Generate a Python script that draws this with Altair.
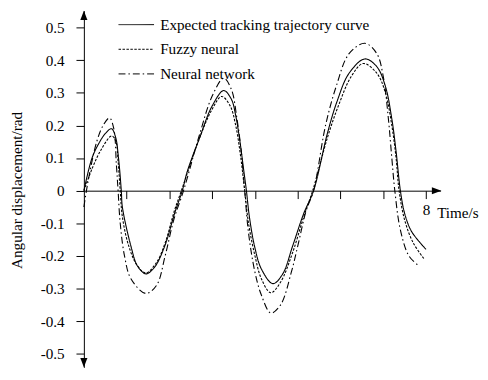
import altair as alt
import pandas as pd

# ---------------- data ----------------
series_names = ["Expected tracking trajectory curve", "Fuzzy neural", "Neural network"]

t_exp = [0, 0.19, 0.35, 0.5, 0.645, 0.74, 0.81, 0.875, 0.9, 1.1, 1.25, 1.45, 1.65, 1.89, 2.12, 2.3,
         2.42, 2.7, 3.0, 3.27, 3.45, 3.55, 3.65, 3.73, 3.8, 3.87, 3.99, 4.15, 4.42, 4.65, 4.88, 5.14, 5.37,
         5.69, 5.92, 6.2, 6.57, 6.85, 7.05, 7.2, 7.3, 7.4, 7.5, 7.64, 7.8, 8.0]
v_exp = [0, 0.10, 0.145, 0.175, 0.19, 0.165, 0.10, 0.0, -0.05, -0.17, -0.23, -0.255, -0.235, -0.17, -0.07, 0.0,
         0.06, 0.16, 0.26, 0.307, 0.28, 0.23, 0.15, 0.07, 0.0, -0.08, -0.17, -0.24, -0.285, -0.255, -0.17, -0.07, 0.0,
         0.174, 0.274, 0.36, 0.404, 0.38, 0.32, 0.22, 0.12, 0.0, -0.07, -0.12, -0.15, -0.18]

t_fuz = [0, 0.2, 0.4, 0.65, 0.75, 0.8, 0.85, 0.9, 1.05, 1.25, 1.45, 1.7, 1.9, 2.12, 2.28,
         2.7, 3.0, 3.22, 3.42, 3.55, 3.66, 3.76, 3.85, 4.0, 4.15, 4.37, 4.6, 4.88, 5.14, 5.35,
         5.7, 5.95, 6.25, 6.53, 6.85, 7.05, 7.2, 7.3, 7.37, 7.5, 7.7, 7.96]
v_fuz = [0, 0.07, 0.125, 0.168, 0.15, 0.09, 0.0, -0.08, -0.17, -0.23, -0.252, -0.22, -0.16, -0.06, 0.0,
         0.16, 0.25, 0.289, 0.26, 0.20, 0.11, 0.0, -0.10, -0.20, -0.27, -0.313, -0.28, -0.19, -0.08, 0.0,
         0.165, 0.26, 0.35, 0.39, 0.36, 0.30, 0.20, 0.10, 0.0, -0.09, -0.16, -0.21]

t_nn = [0, 0.1, 0.3, 0.45, 0.6, 0.7, 0.76, 0.8, 0.85, 0.95, 1.1, 1.45, 1.7, 1.9, 2.1, 2.33,
        2.7, 3.0, 3.27, 3.45, 3.58, 3.68, 3.76, 3.85, 4.0, 4.15, 4.37, 4.6, 4.85, 5.0, 5.2, 5.37,
        5.65, 5.9, 6.2, 6.57, 6.85, 7.0, 7.12, 7.2, 7.27, 7.4, 7.6, 7.83]
v_nn = [-0.05, 0.03, 0.15, 0.20, 0.223, 0.19, 0.08, 0.0, -0.10, -0.20, -0.27, -0.315, -0.29, -0.20, -0.09, 0.0,
        0.17, 0.29, 0.345, 0.31, 0.22, 0.12, 0.0, -0.13, -0.25, -0.32, -0.375, -0.35, -0.25, -0.17, -0.06, 0.0,
        0.20, 0.32, 0.42, 0.452, 0.42, 0.35, 0.22, 0.10, 0.0, -0.12, -0.20, -0.23]

y_ticks = [-0.5, -0.4, -0.3, -0.2, -0.1, 0.0, 0.1, 0.2, 0.3, 0.4, 0.5]
x_ticks = [1, 2, 3, 4, 5, 6, 7, 8]

rows = []
for name, ts, vs in zip(series_names, [t_exp, t_fuz, t_nn], [v_exp, v_fuz, v_nn]):
    for t, v in zip(ts, vs):
        rows.append({"t": t, "v": v, "series": name})
df = pd.DataFrame(rows)

# ---------------- layout ----------------
FONT = "Liberation Serif"
FS = 15.4
W, H = 362, 362
X_DOM = [0, 8.34]
Y_TOP = 0.552
Y_DOM = [Y_TOP - H / 331.0, Y_TOP]
y0_px = Y_TOP * 331.0  # pixel position of v = 0 inside the plot

xscale = alt.Scale(domain=X_DOM, nice=False, zero=False)
yscale = alt.Scale(domain=Y_DOM, nice=False, zero=False)

x_axis = alt.Axis(values=x_ticks, tickSize=8, offset=-(H - y0_px), grid=False,
                  labelExpr="datum.value == 8 ? '8' : ''", labelPadding=4, labelOverlap=False,
                  labelFont=FONT, labelFontSize=FS, titleFont=FONT, titleFontSize=FS,
                  title="Time/s", titleX=358, titleY=22, titleAlign="left",
                  titleBaseline="middle", titleAngle=0)
y_axis = alt.Axis(values=y_ticks, tickSize=8, grid=False, labelPadding=12, labelOverlap=False,
                  labelFont=FONT, labelFontSize=FS, titleFont=FONT, titleFontSize=FS,
                  labelExpr="datum.value == 0 ? '0' : (datum.value < 0 ? '-' : '') + format(abs(datum.value), '.1f')",
                  title="Angular displacement/rad", titleX=-68, titleY=y0_px - 0.7,
                  titleAngle=270, titleAlign="center", titleBaseline="middle")

lines = alt.Chart(df).mark_line(color="black", strokeWidth=1.1, interpolate="catmull-rom").encode(
    x=alt.X("t:Q", scale=xscale, axis=x_axis),
    y=alt.Y("v:Q", scale=yscale, axis=y_axis),
    strokeDash=alt.StrokeDash(
        "series:N",
        scale=alt.Scale(domain=series_names, range=[[1, 0], [2.5, 1.5], [7, 3, 1.5, 3]]),
        legend=alt.Legend(
            title=None, orient="none", legendX=45.5, legendY=6.5, padding=0,
            symbolType="M-3,0H3", symbolSize=144, symbolStrokeWidth=1,
            symbolStrokeColor="black", labelOffset=16.5, rowPadding=8,
            labelFont=FONT, labelFontSize=FS, labelColor="black", labelLimit=0,
        ),
        sort=series_names,
    ),
    detail="series:N",
)

def arrow(t, v, path):
    d = pd.DataFrame({"t": [t], "v": [v]})
    return alt.Chart(d).mark_point(shape=path, filled=True, size=144, color="black",
                                   opacity=1, strokeWidth=0).encode(
        x=alt.X("t:Q", scale=xscale, axis=x_axis),
        y=alt.Y("v:Q", scale=yscale, axis=y_axis),
    )

up = arrow(0, Y_TOP - 6 / 331.0, "M0,-1L0.6,0.6L-0.6,0.6Z")
down = arrow(0, Y_DOM[0] + 6 / 331.0, "M0,1L0.6,-0.6L-0.6,-0.6Z")
right = arrow(8.22, 0, "M1,0L-0.6,0.6L-0.6,-0.6Z")

chart = alt.layer(lines, up, down, right).properties(
    width=W, height=H,
    autosize=alt.AutoSizeParams(type="none"),
    padding={"left": 77, "top": 0, "right": 40, "bottom": 0},
).configure_view(stroke=None).configure_axis(
    labelColor="black", titleFontWeight="normal", titleColor="black",
    domainColor="black", tickColor="black", domainWidth=1, tickWidth=1,
)

chart.save("out.html", embed_options={"renderer": "svg", "actions": False})
